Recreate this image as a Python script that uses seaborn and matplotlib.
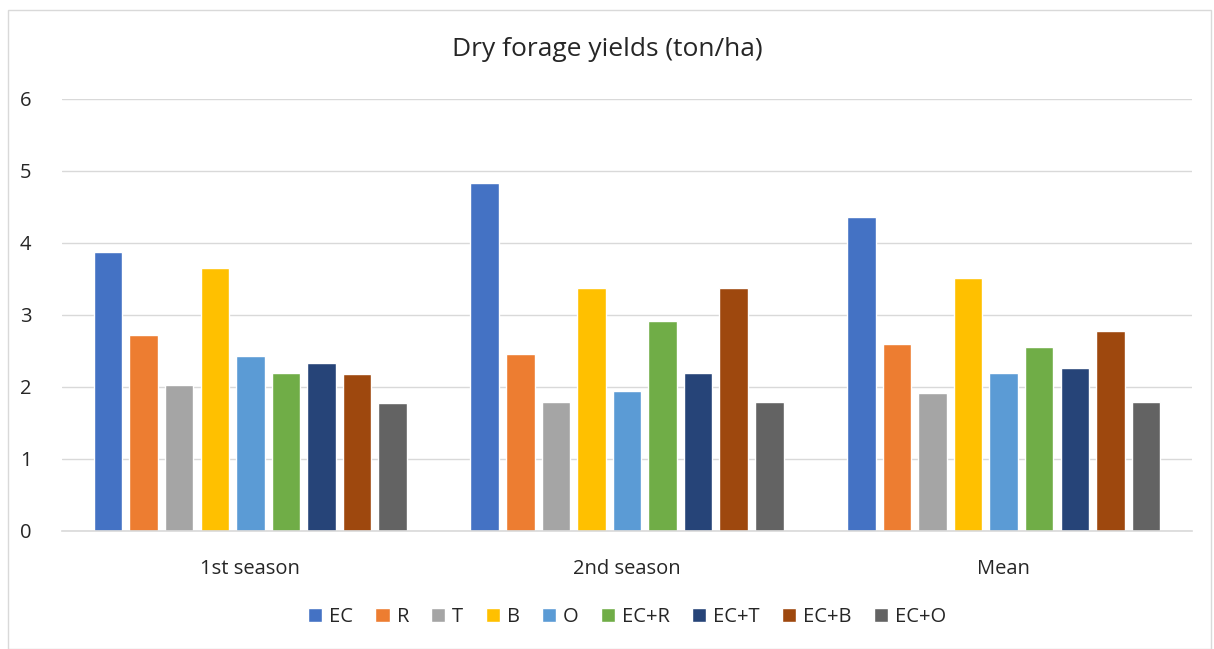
import matplotlib
matplotlib.use("Agg")
import matplotlib.pyplot as plt
import seaborn as sns
import pandas as pd
from matplotlib.patches import Rectangle

# values (ton/ha)
seasons = ["1st season", "2nd season", "Mean"]
treatments = ["EC", "R", "T", "B", "O", "EC+R", "EC+T", "EC+B", "EC+O"]
first_season = [3.88, 2.72, 2.03, 3.65, 2.43, 2.19, 2.33, 2.18, 1.78]
second_season = [4.84, 2.46, 1.79, 3.37, 1.94, 2.92, 2.19, 3.38, 1.79]
mean_yield = [4.36, 2.60, 1.92, 3.51, 2.19, 2.56, 2.26, 2.78, 1.79]
colors = ["#4472c4", "#ed7d31", "#a5a5a5", "#ffc000", "#5b9bd5",
          "#70ad47", "#264478", "#9e480e", "#636363"]

rows = []
for s, vals in zip(seasons, [first_season, second_season, mean_yield]):
    for t, v in zip(treatments, vals):
        rows.append({"season": s, "treatment": t, "yield": v})
df = pd.DataFrame(rows)

sns.set_style("white")
plt.rcParams["font.family"] = ["Open Sans", "DejaVu Sans"]

fig = plt.figure(figsize=(12.14, 6.49), dpi=100)
ax = fig.add_axes([62 / 1214, 1 - 531 / 649, 1130 / 1214, 432 / 649])

sns.barplot(data=df, x="season", y="yield", hue="treatment", hue_order=treatments,
            palette=colors, saturation=1, width=0.85, gap=0.2, ax=ax, legend=True)

ax.set_ylim(0, 6)
ax.set_yticks(range(7))
ax.set_xlim(-0.5, 2.5)
ax.grid(axis="y", color="#d9d9d9", linewidth=1)
ax.set_axisbelow(True)
for side in ["left", "right", "top"]:
    ax.spines[side].set_visible(False)
ax.spines["bottom"].set_color("#d9d9d9")
ax.spines["bottom"].set_linewidth(1.2)
ax.tick_params(axis="both", length=0, labelsize=14.5, colors="#262626")
ax.tick_params(axis="x", pad=20)
ax.tick_params(axis="y", pad=22)
ax.set_xlabel("")
ax.set_ylabel("")

fig.text(0.5, 1 - 50 / 649, "Dry forage yields (ton/ha)", ha="center", va="center",
         fontsize=19, color="#262626")

handles, labels = ax.get_legend_handles_labels()
ax.legend(handles, labels, loc="center", bbox_to_anchor=(0.5, (531 - 617) / 432),
          ncol=9, frameon=False, fontsize=14.5, handlelength=0.7, handleheight=0.7,
          handletextpad=0.35, columnspacing=1.1, labelcolor="#262626")

fig.add_artist(Rectangle((8 / 1214, 0.0), 1203 / 1214, 1 - 10 / 649,
                         transform=fig.transFigure, fill=False,
                         edgecolor="#d9d9d9", linewidth=1))

fig.savefig("out.png", dpi=100)
